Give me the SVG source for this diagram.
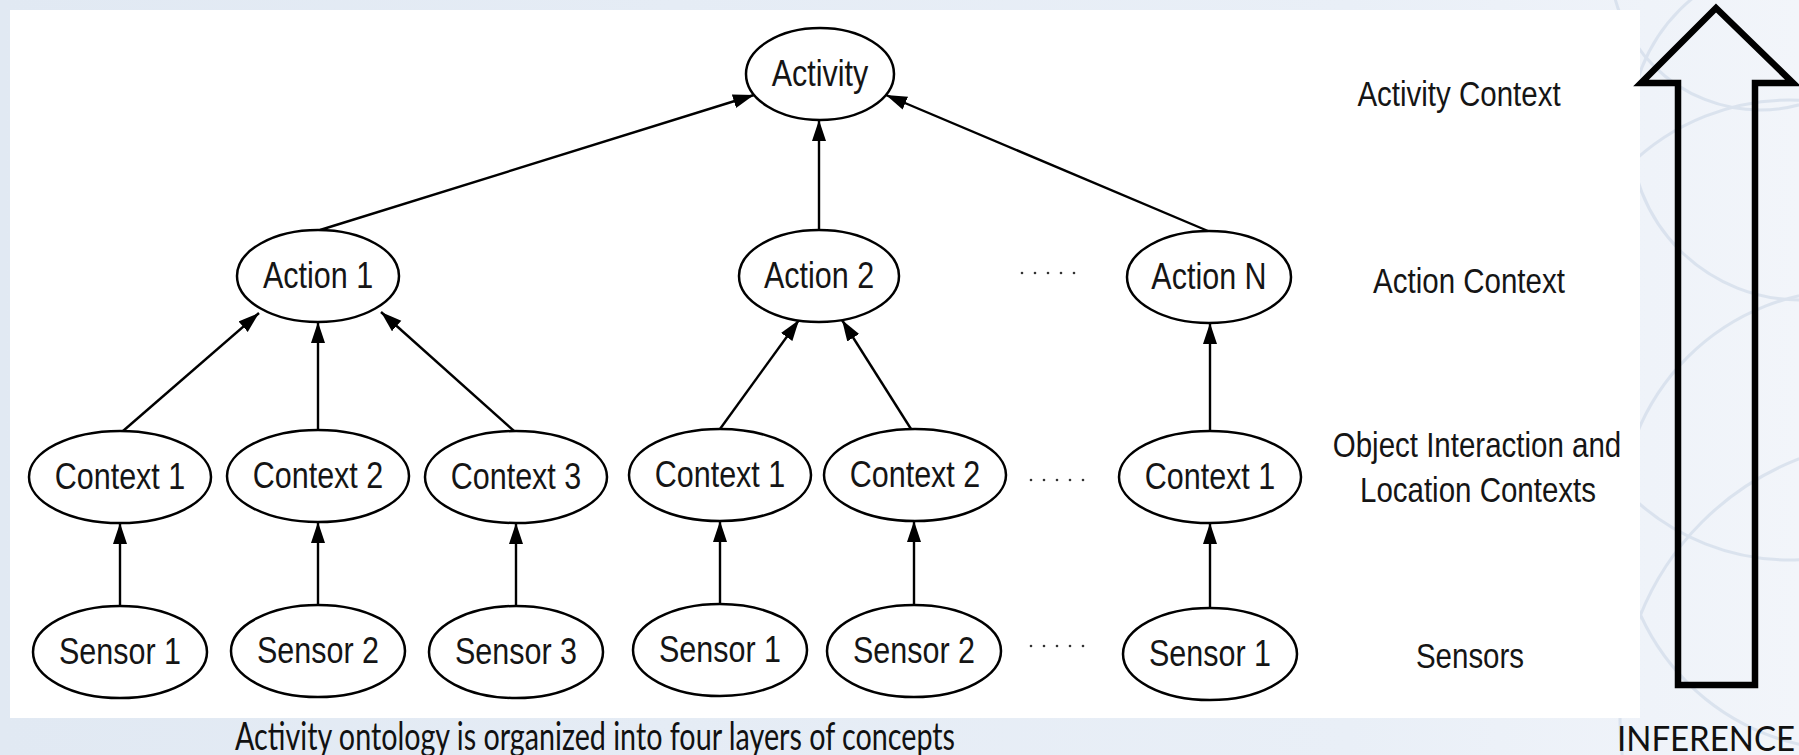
<svg xmlns="http://www.w3.org/2000/svg" width="1799" height="755" viewBox="0 0 1799 755">
  <defs>
    <linearGradient id="bg" x1="0" y1="0" x2="1" y2="0">
      <stop offset="0" stop-color="#e1e9f3"/>
      <stop offset="0.75" stop-color="#e9eff7"/>
      <stop offset="1" stop-color="#f2f5fa"/>
    </linearGradient>
    <marker id="head" markerUnits="userSpaceOnUse" markerWidth="24" markerHeight="16" refX="21" refY="7" orient="auto">
      <path d="M0,0 L21,7 L0,14 z" fill="#000"/>
    </marker>
    <style>
      .node ellipse { fill: #fff; stroke: #000; stroke-width: 2.5; }
      .node text { font-family: "Liberation Sans", Arial, sans-serif; font-size: 30.5px; fill: #151515; text-anchor: middle; }
      .layer { font-family: "Liberation Sans", Arial, sans-serif; font-size: 29.5px; fill: #151515; text-anchor: middle; }
      .edges line { stroke: #000; stroke-width: 2.4; marker-end: url(#head); }
      .swirl { fill: none; stroke: #c6d3e4; stroke-width: 3; opacity: 0.5; }
      .dots circle { fill: #333; }
      .note { font-family: Lato, "Open Sans", sans-serif; fill: #111; }
    </style>
  </defs>

  <!-- slide background with faint swirls -->
  <rect x="0" y="0" width="1799" height="755" fill="url(#bg)"/>
  <g class="swirl">
    <circle cx="1790" cy="330" r="230"/>
    <circle cx="1800" cy="130" r="170"/>
    <circle cx="1760" cy="-40" r="150"/>
    <circle cx="1900" cy="720" r="280"/>
    <circle cx="1850" cy="520" r="230"/>
  </g>

  <!-- white drawing panel -->
  <rect x="10" y="10" width="1630" height="708" fill="#fff"/>

  <!-- connectors -->
  <g class="edges" id="connectors">
    <line x1="320" y1="230" x2="754" y2="95"/>
    <line x1="819" y1="230" x2="819" y2="120"/>
    <line x1="1208" y1="231" x2="886" y2="95"/>
    <line x1="123" y1="431" x2="259" y2="313"/>
    <line x1="318" y1="430" x2="318" y2="322"/>
    <line x1="514" y1="431" x2="381" y2="312"/>
    <line x1="720" y1="429" x2="799" y2="320"/>
    <line x1="911" y1="429" x2="842" y2="320"/>
    <line x1="1210" y1="431" x2="1210" y2="323"/>
    <line x1="120" y1="606" x2="120" y2="523"/>
    <line x1="318" y1="605" x2="318" y2="522"/>
    <line x1="516" y1="606" x2="516" y2="523"/>
    <line x1="720" y1="604" x2="720" y2="521"/>
    <line x1="914" y1="605" x2="914" y2="521"/>
    <line x1="1210" y1="608" x2="1210" y2="523"/>
  </g>

  <!-- activity layer -->
  <g class="node" id="activity">
    <ellipse cx="820" cy="74" rx="74" ry="46"/>
    <text transform="translate(820,86) scale(1,1.22)">Activity</text>
  </g>

  <!-- action layer -->
  <g class="node" id="action1">
    <ellipse cx="318" cy="276" rx="81" ry="46"/>
    <text transform="translate(318,288) scale(1,1.22)">Action 1</text>
  </g>
  <g class="node" id="action2">
    <ellipse cx="819" cy="276" rx="80" ry="46"/>
    <text transform="translate(819,288) scale(1,1.22)">Action 2</text>
  </g>
  <g class="node" id="actionN">
    <ellipse cx="1209" cy="277" rx="82" ry="46"/>
    <text transform="translate(1209,289) scale(1,1.22)">Action N</text>
  </g>

  <!-- object interaction and location contexts -->
  <g class="node" id="a1-context1">
    <ellipse cx="120" cy="477" rx="91" ry="46"/>
    <text transform="translate(120,489) scale(1,1.22)">Context 1</text>
  </g>
  <g class="node" id="a1-context2">
    <ellipse cx="318" cy="476" rx="91" ry="46"/>
    <text transform="translate(318,488) scale(1,1.22)">Context 2</text>
  </g>
  <g class="node" id="a1-context3">
    <ellipse cx="516" cy="477" rx="91" ry="46"/>
    <text transform="translate(516,489) scale(1,1.22)">Context 3</text>
  </g>
  <g class="node" id="a2-context1">
    <ellipse cx="720" cy="475" rx="91" ry="46"/>
    <text transform="translate(720,487) scale(1,1.22)">Context 1</text>
  </g>
  <g class="node" id="a2-context2">
    <ellipse cx="915" cy="475" rx="91" ry="46"/>
    <text transform="translate(915,487) scale(1,1.22)">Context 2</text>
  </g>
  <g class="node" id="aN-context1">
    <ellipse cx="1210" cy="477" rx="91" ry="46"/>
    <text transform="translate(1210,489) scale(1,1.22)">Context 1</text>
  </g>

  <!-- sensors -->
  <g class="node" id="a1-sensor1">
    <ellipse cx="120" cy="652" rx="87" ry="46"/>
    <text transform="translate(120,664) scale(1,1.22)">Sensor 1</text>
  </g>
  <g class="node" id="a1-sensor2">
    <ellipse cx="318" cy="651" rx="87" ry="46"/>
    <text transform="translate(318,663) scale(1,1.22)">Sensor 2</text>
  </g>
  <g class="node" id="a1-sensor3">
    <ellipse cx="516" cy="652" rx="87" ry="46"/>
    <text transform="translate(516,664) scale(1,1.22)">Sensor 3</text>
  </g>
  <g class="node" id="a2-sensor1">
    <ellipse cx="720" cy="650" rx="87" ry="46"/>
    <text transform="translate(720,662) scale(1,1.22)">Sensor 1</text>
  </g>
  <g class="node" id="a2-sensor2">
    <ellipse cx="914" cy="651" rx="87" ry="46"/>
    <text transform="translate(914,663) scale(1,1.22)">Sensor 2</text>
  </g>
  <g class="node" id="aN-sensor1">
    <ellipse cx="1210" cy="654" rx="87" ry="46"/>
    <text transform="translate(1210,666) scale(1,1.22)">Sensor 1</text>
  </g>

  <!-- ellipsis dots between groups -->
  <g class="dots">
    <circle cx="1022" cy="273" r="1.3"/><circle cx="1035" cy="273" r="1.3"/><circle cx="1048" cy="273" r="1.3"/><circle cx="1061" cy="273" r="1.3"/><circle cx="1074" cy="273" r="1.3"/>
    <circle cx="1031" cy="480" r="1.3"/><circle cx="1044" cy="480" r="1.3"/><circle cx="1057" cy="480" r="1.3"/><circle cx="1070" cy="480" r="1.3"/><circle cx="1083" cy="480" r="1.3"/>
    <circle cx="1031" cy="646" r="1.3"/><circle cx="1044" cy="646" r="1.3"/><circle cx="1057" cy="646" r="1.3"/><circle cx="1070" cy="646" r="1.3"/><circle cx="1083" cy="646" r="1.3"/>
  </g>

  <!-- layer names -->
  <g id="layer-labels">
    <text class="layer" transform="translate(1459,106) scale(1,1.22)">Activity Context</text>
    <text class="layer" transform="translate(1469,293) scale(1,1.22)">Action Context</text>
    <text class="layer" transform="translate(1477,457) scale(1,1.22)">Object Interaction and</text>
    <text class="layer" transform="translate(1478,502) scale(1,1.22)">Location Contexts</text>
    <text class="layer" transform="translate(1470,668) scale(1,1.22)">Sensors</text>
  </g>

  <!-- inference arrow -->
  <g id="inference">
    <polygon points="1716,8 1793,83 1755,83 1755,685 1678,685 1678,83 1641,83" fill="none" stroke="#000" stroke-width="6.5" stroke-linejoin="miter"/>
    <text class="note" x="1617" y="751" font-size="34" textLength="178" lengthAdjust="spacingAndGlyphs">INFERENCE</text>
  </g>

  <text class="note" x="235" y="750" font-size="39" textLength="720" lengthAdjust="spacingAndGlyphs">Activity ontology is organized into four layers of concepts</text>
</svg>
